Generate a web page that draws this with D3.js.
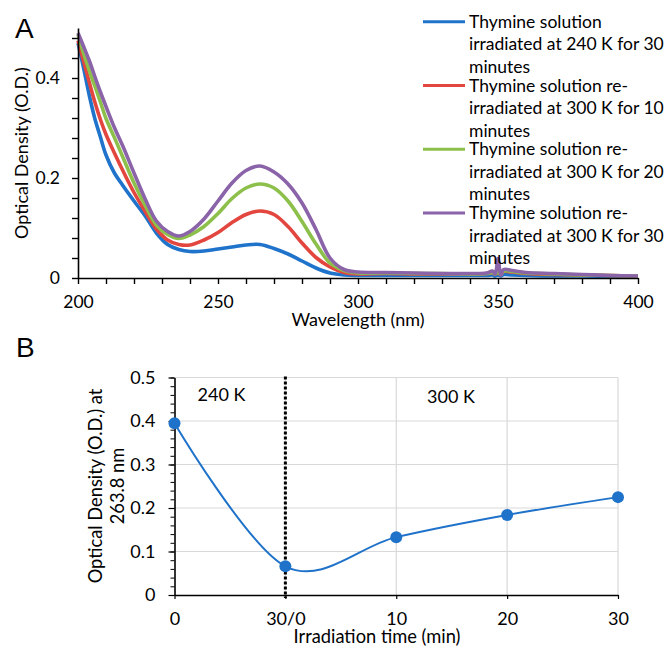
<!DOCTYPE html>
<html>
<head>
<meta charset="utf-8">
<script src="https://cdn.jsdelivr.net/npm/d3@7"></script>
<style>
  body { margin: 0; background: #fff; }
  svg text { font-family: Lato, "Open Sans", sans-serif; fill: #000; }
  .panel-letter { font-family: "Liberation Sans", Arial, sans-serif !important; }
</style>
</head>
<body>
<script>

// ---- panel A: absorbance spectra ----
const wavelengths = [200, 202, 204, 206, 208, 210, 213, 216, 220, 224, 228, 232, 236, 240, 245, 250,
  255, 260, 265, 270, 275, 280, 285, 290, 295, 300, 310, 320, 330, 340, 346, 348, 349, 350, 351,
  352, 355, 360, 370, 380, 390, 400];

const od240k30 = [0.470, 0.420, 0.366, 0.319, 0.282, 0.246, 0.210, 0.185, 0.154, 0.124, 0.090, 0.067,
  0.057, 0.053, 0.054, 0.058, 0.062, 0.066, 0.067, 0.059, 0.048, 0.034, 0.020, 0.010, 0.006, 0.005,
  0.005, 0.005, 0.005, 0.005, 0.005, 0.006, 0.004, 0.006, 0.004, 0.007, 0.006, 0.005, 0.004, 0.004,
  0.003, 0.002];
const od300k10 = [0.475, 0.433, 0.392, 0.352, 0.317, 0.287, 0.250, 0.215, 0.171, 0.133, 0.098, 0.076,
  0.067, 0.066, 0.076, 0.091, 0.111, 0.127, 0.134, 0.127, 0.103, 0.070, 0.041, 0.022, 0.011, 0.008,
  0.009, 0.008, 0.008, 0.008, 0.009, 0.010, 0.008, 0.010, 0.007, 0.013, 0.012, 0.009, 0.007, 0.006,
  0.005, 0.004];
const od300k20 = [0.487, 0.449, 0.415, 0.384, 0.352, 0.319, 0.281, 0.242, 0.190, 0.145, 0.106, 0.087,
  0.079, 0.086, 0.103, 0.129, 0.159, 0.180, 0.188, 0.180, 0.154, 0.113, 0.068, 0.030, 0.015, 0.010,
  0.010, 0.009, 0.009, 0.008, 0.009, 0.011, 0.008, 0.012, 0.007, 0.014, 0.013, 0.010, 0.008, 0.006,
  0.005, 0.004];
const od300k30 = [0.490, 0.463, 0.435, 0.403, 0.372, 0.343, 0.301, 0.264, 0.210, 0.158, 0.114, 0.093,
  0.084, 0.093, 0.118, 0.154, 0.190, 0.215, 0.224, 0.212, 0.188, 0.150, 0.097, 0.040, 0.017, 0.012,
  0.011, 0.010, 0.009, 0.009, 0.010, 0.014, 0.008, 0.039, 0.006, 0.017, 0.015, 0.011, 0.009, 0.007,
  0.005, 0.004];

const seriesNames = [
  ["Thymine solution", "irradiated at 240 K for 30", "minutes"],
  ["Thymine solution re-", "irradiated at 300 K for 10", "minutes"],
  ["Thymine solution re-", "irradiated at 300 K for 20", "minutes"],
  ["Thymine solution re-", "irradiated at 300 K for 30", "minutes"]
];
const seriesColors = ["#1f73cb", "#e2463f", "#8cc04b", "#8a63a9"];

// ---- panel B: O.D. at 263.8 nm ----
const timeLabels = ["0", "30/0", "10", "20", "30"];
const odPeak = [0.395, 0.066, 0.133, 0.184, 0.225];
const phaseLabels = ["240 K", "300 K"];


const svg = d3.select("body").append("svg")
    .attr("width", 667)
    .attr("height", 648);

// ======================= panel A =======================
const xA = d3.scaleLinear().domain([200, 400]).range([78, 638]);
const yA = d3.scaleLinear().domain([0, 0.5]).range([278, 28]);

svg.append("text")
    .attr("class", "panel-letter")
    .attr("x", 15)
    .attr("y", 38)
    .style("font-size", "28px")
    .text("A");

// spectra, blue first so purple ends on top
const spectra = [od240k30, od300k10, od300k20, od300k30];
const lineA = d3.line()
    .x(d => xA(d[0]))
    .y(d => yA(d[1]))
    .curve(d3.curveCatmullRom.alpha(0.5));

spectra.forEach(function(vals, i) {
  svg.append("path")
      .datum(wavelengths.map((w, j) => [w, vals[j]]))
      .attr("d", lineA)
      .attr("fill", "none")
      .attr("stroke", seriesColors[i])
      .attr("stroke-width", 3.6)
      .attr("stroke-linejoin", "round");
});

// axes
const axA_x = svg.append("g")
    .attr("transform", "translate(0,278)")
    .call(d3.axisBottom(xA)
      .tickValues(d3.range(200, 401, 10))
      .tickFormat(d => d % 50 === 0 ? d : "")
      .tickSize(6)
      .tickSizeOuter(0)
      .tickPadding(12));

const axA_y = svg.append("g")
    .attr("transform", "translate(78,0)")
    .call(d3.axisLeft(yA)
      .tickValues(d3.range(0, 0.5, 0.04))
      .tickFormat(d => Math.round(d * 100) % 20 === 0 ? d3.format("~g")(+d.toFixed(2)) : "")
      .tickSize(6)
      .tickSizeOuter(0)
      .tickPadding(12));

[axA_x, axA_y].forEach(function(g) {
  g.select(".domain").attr("stroke", "#000").attr("stroke-width", 1.6);
  g.selectAll(".tick line").attr("stroke", "#000").attr("stroke-width", 1.4);
  g.selectAll(".tick text").style("font-size", "17.5px").style("font-family", "Lato, sans-serif");
});

svg.append("text")
    .attr("x", 358)
    .attr("y", 326)
    .attr("text-anchor", "middle")
    .style("font-size", "18px")
    .text("Wavelength (nm)");

svg.append("text")
    .attr("transform", "translate(28,153) rotate(-90)")
    .attr("text-anchor", "middle")
    .style("font-size", "18px")
    .text("Optical Density (O.D.)");

// legend
const legend = svg.append("g");
seriesNames.forEach(function(lines, i) {
  const y0 = 21.7 + 63.8 * i;
  legend.append("line")
      .attr("x1", 423)
      .attr("x2", 465)
      .attr("y1", y0)
      .attr("y2", y0)
      .attr("stroke", seriesColors[i])
      .attr("stroke-width", 3);
  const t = legend.append("text")
      .attr("x", 469)
      .attr("y", y0 + 6)
      .style("font-size", "17.5px");
  lines.forEach(function(s, k) {
    t.append("tspan")
        .attr("x", 469)
        .attr("y", y0 + 6 + 22.5 * k)
        .text(s);
  });
});

// ======================= panel B =======================
const xB = d3.scalePoint().domain(timeLabels).range([174.5, 618]);
const yB = d3.scaleLinear().domain([0, 0.5]).range([595, 377.5]);

svg.append("text")
    .attr("class", "panel-letter")
    .attr("x", 16)
    .attr("y", 357)
    .style("font-size", "28px")
    .text("B");

// gridlines
svg.append("g")
    .selectAll("line")
    .data(d3.range(0.1, 0.51, 0.1))
    .join("line")
    .attr("x1", 174.5)
    .attr("x2", 618)
    .attr("y1", d => yB(d))
    .attr("y2", d => yB(d))
    .attr("stroke", "#d9d9d9")
    .attr("stroke-width", 1.2);

svg.append("g")
    .selectAll("line")
    .data(timeLabels.slice(1))
    .join("line")
    .attr("x1", d => xB(d))
    .attr("x2", d => xB(d))
    .attr("y1", yB(0.5))
    .attr("y2", yB(0))
    .attr("stroke", "#d9d9d9")
    .attr("stroke-width", 1.2);

// minor ticks on y
svg.append("g")
    .attr("transform", "translate(174.5,0)")
    .call(d3.axisLeft(yB)
      .tickValues(d3.range(0, 0.501, 0.02))
      .tickFormat("")
      .tickSize(4)
      .tickSizeOuter(0))
    .call(g => g.select(".domain").remove());

const axB_y = svg.append("g")
    .attr("transform", "translate(174.5,0)")
    .call(d3.axisLeft(yB)
      .tickValues(d3.range(0, 0.501, 0.1))
      .tickFormat(d => d3.format("~g")(+d.toFixed(1)))
      .tickSize(6)
      .tickSizeOuter(0)
      .tickPadding(13));

const axB_x = svg.append("g")
    .attr("transform", "translate(0,595)")
    .call(d3.axisBottom(xB)
      .tickSize(4)
      .tickSizeOuter(0)
      .tickPadding(13));

[axB_x, axB_y].forEach(function(g) {
  g.select(".domain").attr("stroke", "#000").attr("stroke-width", 1.6);
  g.selectAll(".tick line").attr("stroke", "#000").attr("stroke-width", 1.2);
  g.selectAll(".tick text").style("font-size", "18px").style("font-family", "Lato, sans-serif");
});

// dotted separator between 240 K and 300 K
svg.append("line")
    .attr("x1", xB("30/0"))
    .attr("x2", xB("30/0"))
    .attr("y1", yB(0.5) - 1)
    .attr("y2", yB(0) + 3)
    .attr("stroke", "#000")
    .attr("stroke-width", 3)
    .attr("stroke-dasharray", "3,2");

// smoothed line + markers
const lineB = d3.line()
    .x((d, i) => xB(timeLabels[i]))
    .y(d => yB(d))
    .curve(d3.curveCatmullRom.alpha(0));

svg.append("path")
    .datum(odPeak)
    .attr("d", lineB)
    .attr("fill", "none")
    .attr("stroke", "#1f72c9")
    .attr("stroke-width", 2);

svg.append("g")
    .selectAll("circle")
    .data(odPeak)
    .join("circle")
    .attr("cx", (d, i) => xB(timeLabels[i]))
    .attr("cy", d => yB(d))
    .attr("r", 6)
    .attr("fill", "#1f72c9");

svg.append("text")
    .attr("x", 221.5)
    .attr("y", 400.5)
    .attr("text-anchor", "middle")
    .style("font-size", "18px")
    .text(phaseLabels[0]);

svg.append("text")
    .attr("x", 451)
    .attr("y", 402.5)
    .attr("text-anchor", "middle")
    .style("font-size", "18px")
    .text(phaseLabels[1]);

svg.append("text")
    .attr("x", 377)
    .attr("y", 643)
    .attr("text-anchor", "middle")
    .style("font-size", "18.3px")
    .text("Irradiation time (min)");

svg.append("text")
    .attr("transform", "translate(102,486) rotate(-90)")
    .attr("text-anchor", "middle")
    .style("font-size", "18.3px")
    .text("Optical Density (O.D.) at");

svg.append("text")
    .attr("transform", "translate(124,486) rotate(-90)")
    .attr("text-anchor", "middle")
    .style("font-size", "18.3px")
    .text("263.8 nm");

</script>
</body>
</html>
